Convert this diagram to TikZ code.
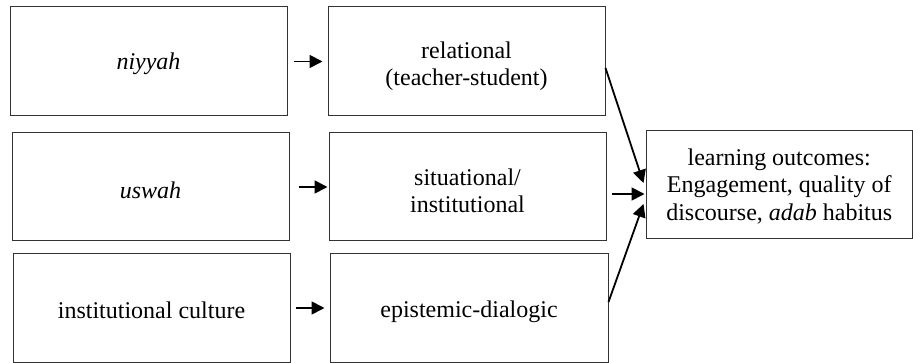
\documentclass[tikz,border=0pt]{standalone}
\usepackage{fontspec}
\setmainfont{Liberation Serif}
\usetikzlibrary{arrows.meta,positioning}
\begin{document}
\begin{tikzpicture}[x=1pt,y=-1pt,
  box/.style={draw=black!80,line width=1pt,rectangle,inner sep=0pt},
  txt/.style={inner sep=0pt,align=center,font=\fontsize{24}{27.5}\selectfont},
  arr/.style={line width=1.8pt,-{Triangle[length=13pt,width=13pt]}}]
\useasboundingbox (0,0) rectangle (913,363);
\node[box,minimum width=277pt,minimum height=109pt] (A1) at (148.5,61.5) {};
\node[box,minimum width=277pt,minimum height=109pt] (B1) at (466.5,61.5) {};
\node[box,minimum width=277pt,minimum height=108pt] (A2) at (150.5,187) {};
\node[box,minimum width=277pt,minimum height=108pt] (B2) at (467.5,187) {};
\node[box,minimum width=277pt,minimum height=108pt] (A3) at (151.5,308) {};
\node[box,minimum width=278pt,minimum height=108pt] (B3) at (469,308) {};
\node[box,minimum width=266.5pt,minimum height=107.5pt] (C) at (779.25,184.5) {};
\node[txt] (tA1) at ([yshift=-2pt]A1.center) {\textit{niyyah}};
\node[txt] (tB1) at ([yshift=-4.5pt]B1.center) {relational\\(teacher-student)};
\node[txt] (tA2) at ([yshift=-3pt]A2.center) {\textit{uswah}};
\node[txt] (tB2) at ([yshift=-4pt]B2.center) {situational/\\institutional};
\node[txt] (tA3) at ([yshift=-2pt]A3.center) {institutional culture};
\node[txt] (tB3) at ([yshift=-4pt]B3.center) {epistemic-dialogic};
\node[txt] (tC) at ([yshift=-2pt]C.center) {learning outcomes:\\Engagement, quality of\\discourse, \textit{adab} habitus};
\draw[arr,shorten <=6pt,shorten >=5pt] (A1.east) -- (B1.west);
\draw[arr,shorten <=9pt,shorten >=1pt] (A2.east) -- (B2.west);
\draw[arr,shorten <=5pt,shorten >=5pt] (A3.east) -- (B3.west);
\draw[arr] ([yshift=-6.5pt]B1.east) -- ([xshift=-2pt,yshift=1.5pt]C.west);
\draw[arr] ([xshift=5pt,yshift=-7pt]B2.east) -- ([xshift=-1pt,yshift=-9.5pt]C.west);
\draw[arr] ([yshift=6pt]B3.east) -- ([xshift=-2pt,yshift=-19.5pt]C.west);
\end{tikzpicture}
\end{document}
